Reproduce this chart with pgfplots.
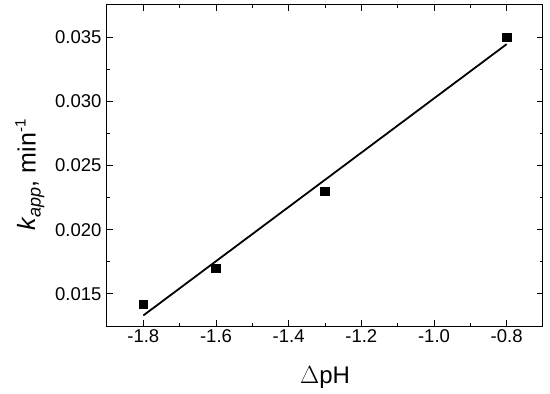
\documentclass[border=0pt]{standalone}
\usepackage{fontspec}
\setmainfont{Liberation Sans}
\usepackage{pgfplots}
\pgfplotsset{compat=1.18}

\begin{document}
\begin{tikzpicture}
\useasboundingbox (-107pt,-68pt) rectangle (443pt,326pt);
\begin{axis}[
    scale only axis,
    width=436pt, height=321pt,
    xmin=-1.9, xmax=-0.7,
    ymin=0.0125, ymax=0.0375,
    xtick={-1.8,-1.6,...,-0.8},
    ytick={0.015,0.020,...,0.035},
    minor x tick num=1,
    minor y tick num=1,
    tick align=inside,
    major tick length=6pt,
    minor tick length=3pt,
    axis line style={line width=1pt},
    every tick/.style={black, line width=0.9pt},
    scaled y ticks=false,
    xticklabel style={/pgf/number format/.cd, fixed, fixed zerofill, precision=1},
    yticklabel style={xshift=-2pt, /pgf/number format/.cd, fixed, fixed zerofill, precision=3},
    /pgf/number format/assume math mode=true,
    every tick label/.append style={font=\fontsize{18.5}{20}\selectfont},
    xlabel={$\Delta$pH},
    ylabel={\textit{k}{\fontsize{18}{18}\selectfont\raisebox{-5pt}{\textit{app}}}, min{\fontsize{15}{15}\selectfont\raisebox{10pt}{-1}}},
    x label style={font=\fontsize{24}{26}\selectfont, at={(axis description cs:0.5,-0.16)}, anchor=center},
    y label style={font=\fontsize{25}{27}\selectfont, at={(axis description cs:-0.177,0.47)}, anchor=center},
]
% measured points
\addplot[only marks, mark=square*, mark size=4.3pt, black] coordinates {
    (-1.8,0.0142) (-1.6,0.0170) (-1.3,0.0230) (-0.8,0.0350)
};
% linear fit
\addplot[black, line width=1.8pt] coordinates {
    (-1.8,0.01332) (-0.8,0.03445)
};
\end{axis}
\end{tikzpicture}
\end{document}
